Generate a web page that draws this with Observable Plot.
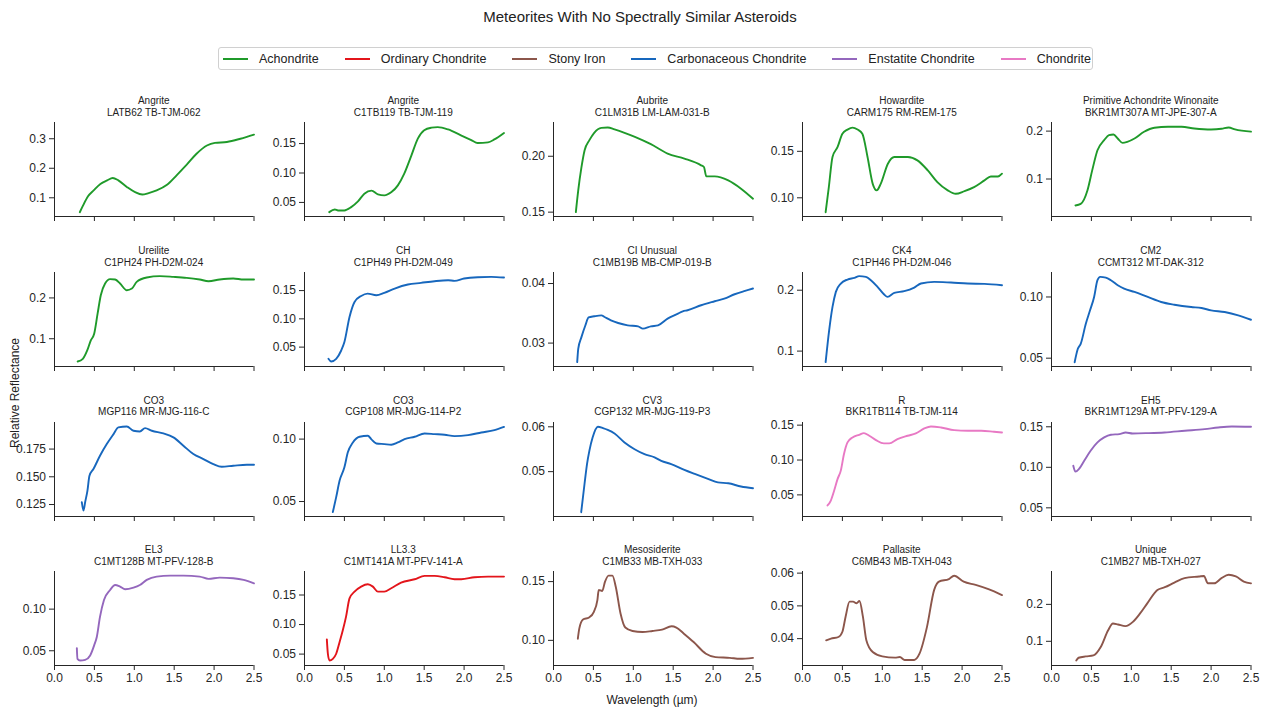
<!DOCTYPE html>
<html>
<head>
<meta charset="utf-8">
<script src="https://cdn.jsdelivr.net/npm/d3@7"></script>
<script src="https://cdn.jsdelivr.net/npm/@observablehq/plot@0.6"></script>
<style>
  body { margin: 0; background: #fff; }
  #root { position: relative; width: 1263px; height: 710px; overflow: hidden; background: #fff;
          font-family: "Liberation Sans", Arial, Helvetica, sans-serif; color: #222; }
  .abs { position: absolute; }
  .ptitle { font-size: 10px; line-height: 11.5px; text-align: center; white-space: nowrap; }
  .legend { border: 1px solid #d0d0d0; border-radius: 3px; box-sizing: border-box;
            display: flex; align-items: center; padding-left: 4px; font-size: 12.5px; }
  .legend .item { display: flex; align-items: center; margin-right: 26px; }
  .legend .item:last-child { margin-right: 0; }
  .legend .handle { width: 25px; height: 2px; margin-right: 11px; }
</style>
</head>
<body>
<div id="root"></div>
<script>
// ---------- data ----------
const categories = ["Achondrite", "Ordinary Chondrite", "Stony Iron", "Carbonaceous Chondrite", "Enstatite Chondrite", "Chondrite"];
const categoryColors = ["#1f9a2a", "#e3151b", "#8c564b", "#1767bd", "#9467bd", "#e879c4"];

const panelTypes = ["Angrite", "Angrite", "Aubrite", "Howardite", "Primitive Achondrite Winonaite",
  "Ureilite", "CH", "CI Unusual", "CK4", "CM2",
  "CO3", "CO3", "CV3", "R", "EH5",
  "EL3", "LL3.3", "Mesosiderite", "Pallasite", "Unique"];
const panelIds = ["LATB62 TB-TJM-062", "C1TB119 TB-TJM-119", "C1LM31B LM-LAM-031-B", "CARM175 RM-REM-175", "BKR1MT307A MT-JPE-307-A",
  "C1PH24 PH-D2M-024", "C1PH49 PH-D2M-049", "C1MB19B MB-CMP-019-B", "C1PH46 PH-D2M-046", "CCMT312 MT-DAK-312",
  "MGP116 MR-MJG-116-C", "CGP108 MR-MJG-114-P2", "CGP132 MR-MJG-119-P3", "BKR1TB114 TB-TJM-114", "BKR1MT129A MT-PFV-129-A",
  "C1MT128B MT-PFV-128-B", "C1MT141A MT-PFV-141-A", "C1MB33 MB-TXH-033", "C6MB43 MB-TXH-043", "C1MB27 MB-TXH-027"];
const panelCategory = ["Achondrite", "Achondrite", "Achondrite", "Achondrite", "Achondrite",
  "Achondrite", "Carbonaceous Chondrite", "Carbonaceous Chondrite", "Carbonaceous Chondrite", "Carbonaceous Chondrite",
  "Carbonaceous Chondrite", "Carbonaceous Chondrite", "Carbonaceous Chondrite", "Chondrite", "Enstatite Chondrite",
  "Enstatite Chondrite", "Ordinary Chondrite", "Stony Iron", "Stony Iron", "Stony Iron"];

const yTickLabels = [
  ["0.1", "0.2", "0.3"], ["0.05", "0.10", "0.15"], ["0.15", "0.20"], ["0.10", "0.15"], ["0.1", "0.2"],
  ["0.1", "0.2"], ["0.05", "0.10", "0.15"], ["0.03", "0.04"], ["0.1", "0.2"], ["0.05", "0.10"],
  ["0.125", "0.150", "0.175"], ["0.05", "0.10"], ["0.05", "0.06"], ["0.05", "0.10", "0.15"], ["0.05", "0.10", "0.15"],
  ["0.05", "0.10"], ["0.05", "0.10", "0.15"], ["0.10", "0.15"], ["0.04", "0.05", "0.06"], ["0.1", "0.2"]];
const yDomains = [
  [0.0366, 0.355], [0.0261, 0.1858], [0.1461, 0.2302], [0.0799, 0.181], [0.0217, 0.218],
  [0.032, 0.2623], [0.0157, 0.182], [0.02607, 0.04185], [0.0747, 0.2291], [0.0432, 0.12],
  [0.1142, 0.19895], [0.038, 0.1133], [0.04, 0.06096], [0.019, 0.1538], [0.0393, 0.1553],
  [0.0323, 0.1452], [0.0307, 0.1898], [0.0786, 0.1586], [0.0318, 0.0605], [0.0345, 0.289]];
const xTickLabels = ["0.0", "0.5", "1.0", "1.5", "2.0", "2.5"];
const xDomain = [0, 2.5];

// spectra: [wavelength (µm), relative reflectance]
const specAngriteLATB62 = [[0.317,0.051],[0.36,0.075],[0.42,0.105],[0.49,0.125],[0.575,0.147],[0.66,0.159],[0.73,0.167],[0.80,0.159],[0.91,0.136],[1.01,0.119],[1.10,0.111],[1.18,0.116],[1.28,0.125],[1.41,0.144],[1.53,0.176],[1.66,0.213],[1.78,0.249],[1.91,0.277],[2.01,0.286],[2.16,0.289],[2.33,0.300],[2.5,0.314]];
const specAngriteC1TB119 = [[0.31,0.0335],[0.38,0.038],[0.42,0.0364],[0.50,0.0364],[0.585,0.042],[0.67,0.0517],[0.75,0.0648],[0.84,0.070],[0.92,0.0636],[1.0,0.062],[1.09,0.0676],[1.17,0.079],[1.25,0.0989],[1.34,0.130],[1.42,0.1585],[1.50,0.1727],[1.59,0.177],[1.67,0.178],[1.80,0.174],[1.96,0.164],[2.09,0.156],[2.17,0.151],[2.30,0.152],[2.38,0.157],[2.5,0.168]];
const specAubrite = [[0.28,0.150],[0.31,0.1695],[0.35,0.190],[0.39,0.2054],[0.45,0.2144],[0.51,0.221],[0.60,0.2254],[0.68,0.2257],[0.765,0.2240],[0.89,0.221],[1.02,0.2174],[1.22,0.2108],[1.43,0.2024],[1.64,0.1979],[1.85,0.1919],[1.885,0.1904],[1.915,0.182],[2.02,0.182],[2.19,0.1784],[2.35,0.171],[2.5,0.162]];
const specHowardite = [[0.29,0.0845],[0.33,0.1115],[0.376,0.1439],[0.44,0.1547],[0.50,0.169],[0.564,0.1734],[0.627,0.1755],[0.69,0.1734],[0.75,0.169],[0.815,0.1439],[0.88,0.115],[0.93,0.108],[0.98,0.115],[1.07,0.1367],[1.15,0.1439],[1.32,0.1439],[1.44,0.1403],[1.57,0.1295],[1.69,0.1169],[1.82,0.108],[1.92,0.1043],[2.03,0.1072],[2.15,0.1115],[2.28,0.1187],[2.36,0.123],[2.45,0.123],[2.5,0.126]];
const specWinonaite = [[0.30,0.0448],[0.366,0.048],[0.45,0.076],[0.51,0.118],[0.576,0.160],[0.66,0.181],[0.72,0.1916],[0.777,0.193],[0.83,0.1846],[0.89,0.1755],[0.95,0.1776],[1.04,0.1846],[1.16,0.1986],[1.29,0.207],[1.46,0.209],[1.63,0.209],[1.79,0.2056],[2.0,0.2035],[2.13,0.2049],[2.22,0.2077],[2.30,0.2035],[2.5,0.199]];
const specUreilite = [[0.29,0.0443],[0.355,0.0508],[0.41,0.0713],[0.455,0.096],[0.497,0.112],[0.54,0.1615],[0.58,0.2066],[0.634,0.2352],[0.697,0.246],[0.76,0.245],[0.822,0.2352],[0.906,0.2189],[0.97,0.223],[1.03,0.2393],[1.156,0.250],[1.32,0.2533],[1.49,0.2516],[1.657,0.2492],[1.82,0.245],[1.93,0.241],[2.07,0.245],[2.24,0.2475],[2.37,0.245],[2.5,0.245]];
const specCH = [[0.30,0.0293],[0.334,0.0246],[0.397,0.0293],[0.46,0.044],[0.50,0.0589],[0.564,0.1033],[0.627,0.1299],[0.71,0.1405],[0.79,0.1447],[0.90,0.1417],[1.0,0.1459],[1.13,0.1536],[1.296,0.1607],[1.46,0.1636],[1.63,0.1666],[1.80,0.1683],[1.88,0.1672],[2.0,0.1713],[2.17,0.1737],[2.34,0.1743],[2.5,0.1731]];
const specCIUnusual = [[0.297,0.0268],[0.31,0.02904],[0.35,0.0310],[0.40,0.0330],[0.44,0.0343],[0.51,0.0345],[0.60,0.03466],[0.64,0.03438],[0.72,0.03382],[0.81,0.03337],[0.93,0.03298],[1.06,0.03281],[1.12,0.03242],[1.22,0.03281],[1.31,0.03298],[1.43,0.0341],[1.56,0.03494],[1.62,0.03534],[1.68,0.03551],[1.85,0.03635],[2.02,0.03702],[2.14,0.03747],[2.27,0.0382],[2.40,0.03876],[2.5,0.03916]];
const specCK4 = [[0.29,0.0819],[0.334,0.134],[0.376,0.1725],[0.418,0.1973],[0.48,0.211],[0.564,0.2176],[0.65,0.2203],[0.71,0.2231],[0.794,0.222],[0.857,0.2165],[0.94,0.2055],[1.02,0.1934],[1.066,0.189],[1.15,0.1956],[1.275,0.1984],[1.40,0.2044],[1.484,0.211],[1.65,0.2137],[1.86,0.2126],[2.07,0.211],[2.28,0.2104],[2.5,0.2082]];
const specCM2 = [[0.29,0.0467],[0.33,0.0577],[0.366,0.0617],[0.43,0.0781],[0.483,0.0891],[0.534,0.100],[0.576,0.1137],[0.61,0.1164],[0.68,0.1158],[0.744,0.1137],[0.83,0.1096],[0.91,0.1068],[1.04,0.1041],[1.206,0.100],[1.374,0.0959],[1.54,0.0937],[1.75,0.0918],[1.88,0.0910],[2.0,0.0891],[2.17,0.0877],[2.34,0.085],[2.5,0.0814]];
const specCO3MGP116 = [[0.342,0.1271],[0.363,0.1196],[0.384,0.1271],[0.413,0.1376],[0.438,0.151],[0.488,0.157],[0.57,0.169],[0.655,0.1795],[0.74,0.1885],[0.80,0.1945],[0.906,0.1954],[0.99,0.1915],[1.07,0.1909],[1.135,0.1939],[1.22,0.1915],[1.365,0.1891],[1.49,0.1855],[1.615,0.178],[1.74,0.1705],[1.866,0.166],[1.99,0.1615],[2.095,0.1591],[2.24,0.160],[2.41,0.1609],[2.5,0.1609]];
const specCO3CGP108 = [[0.355,0.0415],[0.397,0.0535],[0.44,0.0668],[0.50,0.0774],[0.543,0.0894],[0.606,0.0973],[0.69,0.1019],[0.794,0.1027],[0.836,0.100],[0.90,0.0965],[1.0,0.096],[1.087,0.0955],[1.17,0.0973],[1.254,0.100],[1.38,0.1019],[1.505,0.1045],[1.63,0.104],[1.756,0.1035],[1.88,0.1024],[2.05,0.1032],[2.216,0.1053],[2.38,0.1072],[2.5,0.1098]];
const specCV3 = [[0.347,0.04096],[0.389,0.0473],[0.42,0.0517],[0.45,0.0547],[0.49,0.0576],[0.556,0.0600],[0.62,0.0597],[0.68,0.0593],[0.765,0.0585],[0.89,0.0565],[1.016,0.0550],[1.14,0.0539],[1.267,0.0532],[1.35,0.0524],[1.475,0.0517],[1.64,0.0504],[1.77,0.0495],[1.935,0.0484],[2.06,0.0476],[2.19,0.0474],[2.35,0.0467],[2.5,0.0463]];
const specR = [[0.313,0.0348],[0.355,0.0419],[0.397,0.0562],[0.44,0.0729],[0.48,0.0848],[0.52,0.1086],[0.564,0.1252],[0.627,0.1324],[0.71,0.1362],[0.77,0.1386],[0.836,0.1348],[0.92,0.1286],[1.02,0.1238],[1.087,0.1238],[1.19,0.130],[1.317,0.1348],[1.42,0.1381],[1.526,0.1452],[1.61,0.1481],[1.735,0.1467],[1.90,0.1429],[2.07,0.1419],[2.24,0.1419],[2.40,0.1405],[2.5,0.1395]];
const specEH5 = [[0.273,0.102],[0.30,0.0947],[0.345,0.098],[0.41,0.1082],[0.49,0.1205],[0.576,0.1307],[0.66,0.1369],[0.744,0.1402],[0.85,0.141],[0.93,0.143],[1.017,0.1418],[1.206,0.1422],[1.416,0.143],[1.67,0.1451],[1.92,0.1471],[2.09,0.1492],[2.26,0.1504],[2.5,0.150]];
const specEL3 = [[0.28,0.0532],[0.288,0.0403],[0.32,0.0383],[0.384,0.0391],[0.447,0.0444],[0.497,0.0565],[0.53,0.0665],[0.57,0.0907],[0.62,0.1109],[0.697,0.123],[0.76,0.129],[0.822,0.127],[0.885,0.1238],[0.99,0.1258],[1.07,0.129],[1.156,0.1351],[1.28,0.1391],[1.45,0.1403],[1.615,0.1403],[1.82,0.1391],[1.93,0.1363],[2.07,0.1379],[2.24,0.1371],[2.37,0.1351],[2.5,0.131]];
const specLL33 = [[0.28,0.075],[0.293,0.0506],[0.313,0.0392],[0.355,0.042],[0.397,0.0506],[0.44,0.0705],[0.48,0.0903],[0.52,0.113],[0.564,0.1443],[0.627,0.1557],[0.71,0.1642],[0.794,0.1682],[0.857,0.1642],[0.92,0.1557],[1.0,0.1557],[1.087,0.1614],[1.21,0.171],[1.38,0.1767],[1.505,0.1824],[1.63,0.1824],[1.756,0.1801],[1.88,0.1767],[1.965,0.1767],[2.13,0.1801],[2.30,0.1812],[2.5,0.1812]];
const specMesosiderite = [[0.305,0.1014],[0.323,0.110],[0.37,0.1177],[0.445,0.1194],[0.506,0.1243],[0.55,0.1343],[0.567,0.1429],[0.61,0.1420],[0.646,0.150],[0.69,0.1551],[0.738,0.1551],[0.78,0.1457],[0.84,0.1229],[0.90,0.1109],[0.99,0.108],[1.116,0.1071],[1.24,0.108],[1.36,0.1091],[1.48,0.112],[1.54,0.1109],[1.634,0.1057],[1.756,0.0986],[1.91,0.0886],[2.03,0.0857],[2.21,0.0851],[2.335,0.0843],[2.5,0.0851]];
const specPallasite = [[0.296,0.0395],[0.357,0.0400],[0.45,0.0405],[0.50,0.0421],[0.54,0.0467],[0.59,0.0513],[0.634,0.0513],[0.677,0.0508],[0.714,0.0515],[0.757,0.0467],[0.80,0.0395],[0.88,0.0359],[1.0,0.0346],[1.16,0.0342],[1.22,0.0344],[1.28,0.0335],[1.40,0.0335],[1.466,0.0354],[1.56,0.0436],[1.65,0.0549],[1.71,0.0574],[1.835,0.0582],[1.90,0.0592],[2.02,0.0574],[2.17,0.0564],[2.33,0.0551],[2.5,0.0533]];
const specUnique = [[0.31,0.0482],[0.34,0.0555],[0.43,0.0591],[0.525,0.0618],[0.617,0.0845],[0.71,0.130],[0.77,0.1482],[0.833,0.1455],[0.926,0.141],[1.02,0.1527],[1.11,0.1755],[1.20,0.2027],[1.327,0.2391],[1.42,0.2464],[1.54,0.259],[1.667,0.271],[1.85,0.2755],[1.91,0.277],[1.96,0.257],[2.04,0.257],[2.13,0.271],[2.22,0.280],[2.31,0.2755],[2.41,0.2618],[2.5,0.257]];

const spectra = [specAngriteLATB62, specAngriteC1TB119, specAubrite, specHowardite, specWinonaite,
  specUreilite, specCH, specCIUnusual, specCK4, specCM2,
  specCO3MGP116, specCO3CGP108, specCV3, specR, specEH5,
  specEL3, specLL33, specMesosiderite, specPallasite, specUnique];

// ---------- layout ----------
const root = document.getElementById("root");
const FONT = '"Liberation Sans", Arial, Helvetica, sans-serif';
const colX = [54, 303.5, 552.5, 802, 1051];
const rowY = [122, 272, 421.5, 571];
const PW = 199.5, PH = 94;
const mL = 44, mR = 12, mT = 4;
const AX = "#262626";
const colorOf = new Map(categories.map((c, i) => [c, categoryColors[i]]));

function el(tag, cls, style, text) {
  const e = document.createElement(tag);
  if (cls) e.className = cls;
  Object.assign(e.style, style || {});
  if (text != null) e.textContent = text;
  root.appendChild(e);
  return e;
}

// title
el("div", "abs", { left: "640px", top: "8px", transform: "translateX(-50%)", fontSize: "15px", lineHeight: "18px", whiteSpace: "nowrap" },
   "Meteorites With No Spectrally Similar Asteroids");

// legend
const lg = el("div", "abs legend", { left: "218px", top: "47px", width: "875px", height: "23px" });
categories.forEach((c, i) => {
  const it = document.createElement("div"); it.className = "item";
  const h = document.createElement("div"); h.className = "handle"; h.style.background = categoryColors[i];
  const t = document.createElement("span"); t.textContent = c;
  it.appendChild(h); it.appendChild(t); lg.appendChild(it);
});

// panels
const xTicks = xTickLabels.map(Number);
spectra.forEach((data, i) => {
  const r = Math.floor(i / 5), c = i % 5;
  const bottom = r === 3;
  const mB = bottom ? 26 : 10;
  const yt = yTickLabels[i].map(Number);
  const ylab = new Map(yt.map((v, j) => [v, yTickLabels[i][j]]));
  const xlab = new Map(xTicks.map((v, j) => [v, xTickLabels[j]]));
  const color = colorOf.get(panelCategory[i]);
  const svg = Plot.plot({
    width: mL + PW + mR, height: mT + PH + mB,
    marginLeft: mL, marginRight: mR, marginTop: mT, marginBottom: mB,
    x: { domain: xDomain },
    y: { domain: yDomains[i] },
    style: { fontFamily: FONT, fontSize: "12px", color: AX, background: "transparent", overflow: "visible" },
    marks: [
      Plot.axisX({ ticks: xTicks, tickSize: 5, tickPadding: 3, label: null, stroke: AX,
                   tickFormat: d => bottom ? xlab.get(d) : "" }),
      Plot.axisY({ ticks: yt, tickSize: 5, tickPadding: 3.5, label: null, stroke: AX,
                   tickFormat: d => ylab.get(d) }),
      Plot.ruleX([xDomain[0]], { stroke: AX, strokeWidth: 1 }),
      Plot.ruleY([yDomains[i][0]], { stroke: AX, strokeWidth: 1 }),
      Plot.line(data, { x: d => d[0], y: d => d[1], stroke: color, strokeWidth: 1.9, curve: "monotone-x" })
    ]
  });
  const wrap = el("div", "abs", { left: (colX[c] - mL) + "px", top: (rowY[r] - mT) + "px" });
  wrap.appendChild(svg);
  el("div", "abs ptitle", { left: (colX[c] + PW / 2 - 120) + "px", width: "240px", top: (rowY[r] - 27) + "px" },
     null).innerHTML = panelTypes[i] + "<br>" + panelIds[i];
});

// axis labels
el("div", "abs", { left: "652px", top: "693px", transform: "translateX(-50%)", fontSize: "12px", lineHeight: "15px", whiteSpace: "nowrap" },
   "Wavelength (µm)");
el("div", "abs", { left: "15px", top: "393px", transform: "translate(-50%,-50%) rotate(-90deg)", fontSize: "12px", lineHeight: "15px", whiteSpace: "nowrap" },
   "Relative Reflectance");
</script>
</body>
</html>
